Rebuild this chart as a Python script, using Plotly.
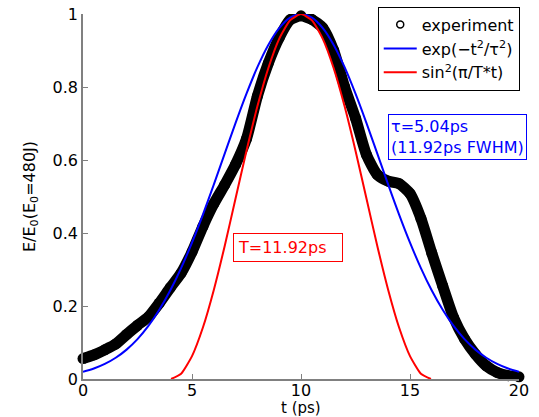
import plotly.graph_objects as go

# experiment
t_exp = [0, 0.5, 1.0, 1.5, 2.0, 2.5, 3.0, 3.5, 4.0, 4.5, 5.0, 5.5, 6.0, 6.5, 7.0, 7.5,
         8.0, 8.5, 9.0, 9.5, 10.0, 10.5, 11.0, 11.5, 12.0, 12.5, 13.0, 13.5, 14.0, 14.5,
         15.0, 15.5, 16.0, 16.5, 17.0, 17.5, 18.0, 18.5, 19.0, 19.5, 20.0]
e_exp = [0.056, 0.066, 0.080, 0.096, 0.122, 0.147, 0.170, 0.208, 0.250, 0.290, 0.348,
         0.418, 0.480, 0.532, 0.588, 0.658, 0.775, 0.865, 0.935, 0.984, 0.995, 0.985,
         0.962, 0.900, 0.800, 0.715, 0.615, 0.560, 0.542, 0.535, 0.508, 0.440, 0.345,
         0.255, 0.168, 0.110, 0.068, 0.036, 0.018, 0.009, 0.006]

# gaussian fit curve
t_gauss = [0, 0.5, 1, 1.5, 2, 2.5, 3, 3.5, 4, 4.5, 5, 5.5, 6, 6.5, 7, 7.5, 8, 8.5, 9, 9.5,
           10, 10.5, 11, 11.5, 12, 12.5, 13, 13.5, 14, 14.5, 15, 15.5, 16, 16.5, 17, 17.5,
           18, 18.5, 19, 19.5, 20]
e_gauss = [0.0195, 0.0286, 0.0412, 0.0582, 0.0805, 0.1092, 0.1453, 0.1895, 0.2424, 0.3039,
           0.3737, 0.4506, 0.5327, 0.6174, 0.7017, 0.7818, 0.8543, 0.9152, 0.9614, 0.9902,
           1.0, 0.9902, 0.9614, 0.9152, 0.8543, 0.7818, 0.7017, 0.6174, 0.5327, 0.4506,
           0.3737, 0.3039, 0.2424, 0.1895, 0.1453, 0.1092, 0.0805, 0.0582, 0.0412, 0.0286,
           0.0195]

# sin^2 fit curve
t_sin = [4.04, 4.5, 5, 5.5, 6, 6.5, 7, 7.5, 8, 8.5, 9, 9.5, 10, 10.5, 11, 11.5, 12,
         12.5, 13, 13.5, 14, 14.5, 15, 15.5, 15.96]
e_sin = [0, 0.0146, 0.0627, 0.141, 0.244, 0.3645, 0.495, 0.6255, 0.747, 0.8514, 0.932,
         0.9827, 1.0, 0.9827, 0.932, 0.8514, 0.747, 0.6255, 0.495, 0.3645, 0.244, 0.141,
         0.0627, 0.0146, 0]

x_ticks = [0, 5, 10, 15, 20]
y_ticks = [0, 0.2, 0.4, 0.6, 0.8, 1]

FONT = "DejaVu Sans, Verdana, sans-serif"
FS = 16

fig = go.Figure()
fig.add_trace(go.Scatter(
    x=t_exp, y=e_exp, mode="lines+markers", showlegend=False,
    line=dict(color="black", width=11, shape="spline", smoothing=0.6),
    marker=dict(color="black", size=11, symbol="circle"), cliponaxis=False))
fig.add_trace(go.Scatter(
    x=[None], y=[None], mode="markers", name="experiment",
    marker=dict(color="black", size=7, symbol="circle-open", line=dict(width=1.5, color="black"))))
fig.add_trace(go.Scatter(
    x=t_gauss, y=e_gauss, mode="lines", name="exp(−t<sup>2</sup>/τ<sup>2</sup>)",
    line=dict(color="#0000ff", width=2, shape="spline")))
fig.add_trace(go.Scatter(
    x=t_sin, y=e_sin, mode="lines", name="sin<sup>2</sup>(π/T*t)",
    line=dict(color="#ff0000", width=2, shape="spline", smoothing=0.5)))

fig.add_annotation(x=14.0, y=0.726, xref="x", yref="y", xanchor="left", yanchor="top",
                   text="τ=5.04ps<br>(11.92ps FWHM)", align="left", showarrow=False,
                   font=dict(color="#0000ff", size=FS, family=FONT),
                   bordercolor="#0000ff", borderwidth=1, borderpad=2, bgcolor="white")
fig.add_annotation(x=6.88, y=0.40, xref="x", yref="y", xanchor="left", yanchor="top",
                   text="T=11.92ps", align="left", showarrow=False, width=100,
                   font=dict(color="#ff0000", size=FS, family=FONT),
                   bordercolor="#ff0000", borderwidth=1, borderpad=4, bgcolor="white")
# x-axis title
fig.add_annotation(x=0.5, y=-0.0808, xref="paper", yref="paper", xanchor="center",
                   yanchor="middle", text="t (ps)", showarrow=False,
                   font=dict(color="black", size=15, family=FONT))

axis_common = dict(showgrid=False, zeroline=False, showline=True, linecolor="#808080",
                   linewidth=1.5, ticks="inside", ticklen=5, tickcolor="#808080",
                   tickfont=dict(size=FS, color="black", family=FONT), mirror=False)

fig.update_layout(
    width=539, height=417, margin=dict(l=83, r=20, t=14, b=38, autoexpand=False),
    paper_bgcolor="white", plot_bgcolor="white",
    font=dict(family=FONT, size=FS, color="black"),
    xaxis=dict(range=[0, 20], tickvals=x_ticks, ticklabelstandoff=-4, **axis_common),
    yaxis=dict(range=[0, 1], tickvals=y_ticks, **axis_common,
               title=dict(text="E/E<sub>0</sub>(E<sub>0</sub>=480J)", standoff=13,
                          font=dict(size=FS, family=FONT))),
    legend=dict(x=0.676, y=1.02, xanchor="left", yanchor="top",
                bordercolor="black", borderwidth=1, bgcolor="white",
                font=dict(size=FS, family=FONT), tracegroupgap=0,
                itemwidth=33),
    showlegend=True,
)

fig.write_html("out.html")
